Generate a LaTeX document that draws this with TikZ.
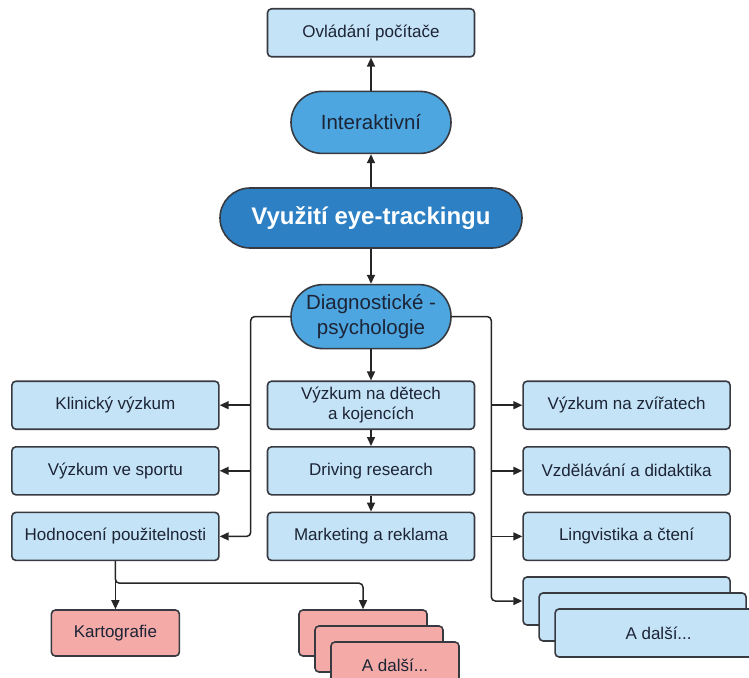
\documentclass[tikz,border=0pt]{standalone}
\usepackage{fontspec}
\setmainfont{Liberation Sans}
\usetikzlibrary{arrows.meta,positioning,calc}
\definecolor{boxBlue}{RGB}{197,227,246}
\definecolor{pillBlue}{RGB}{77,166,224}
\definecolor{mainBlue}{RGB}{44,128,195}
\definecolor{boxRed}{RGB}{244,170,166}
\definecolor{edgeGray}{RGB}{55,58,64}
\definecolor{textNavy}{RGB}{28,36,54}

\begin{document}
\begin{tikzpicture}[
  x=1pt, y=-1pt,
  node distance=16pt and 47pt,
  box/.style={rectangle, rounded corners=4pt, draw=edgeGray, line width=1.6pt, fill=boxBlue,
              minimum width=207pt, minimum height=48pt, inner sep=2pt, align=center,
              text=textNavy, font=\fontsize{17}{20.5}\selectfont},
  redbox/.style={box, fill=boxRed, minimum width=128pt, minimum height=46pt},
  pill/.style={rectangle, rounded corners=31pt, draw=edgeGray, line width=1.6pt, fill=pillBlue,
               minimum width=160pt, minimum height=62pt, inner sep=1pt, align=center,
               text=textNavy, font=\fontsize{20.5}{24.5}\selectfont},
  mainpill/.style={pill, fill=mainBlue, text=white, minimum width=302pt, minimum height=60pt,
                   rounded corners=30pt, font=\fontsize{24}{28}\selectfont\bfseries},
  arr/.style={-{Triangle[length=9pt,width=8pt]}, line width=1.5pt, draw=black!85, rounded corners=4pt}
]
\useasboundingbox (0,0) rectangle (749,677);
\clip (0,0) rectangle (749,677);

%% ---- Centre spine ----
\node[mainpill] (main) at (371,218) {Využití eye-trackingu};
\node[pill, above=33pt of main]  (inter) {Interaktivní};
\node[box,  above=33pt of inter] (ctrl)  {Ovládání počítače};
\node[pill, minimum height=64pt, rounded corners=32pt, below=35pt of main] (diag)
  {Diagnostické -\\psychologie};

%% ---- Middle column ----
\node[box, below=31pt of diag] (kids)      {Výzkum na dětech\\a kojencích};
\node[box, below=of kids]      (driving)   {Driving research};
\node[box, below=of driving]   (marketing) {Marketing a reklama};

%% ---- Left column ----
\node[box, left=of kids]      (klin)  {Klinický výzkum};
\node[box, left=of driving]   (sport) {Výzkum ve sportu};
\node[box, left=of marketing] (hodn)  {Hodnocení použitelnosti};

%% ---- Right column ----
\node[box, right=of kids]      (zvirata) {Výzkum na zvířatech};
\node[box, right=of driving]   (vzdel)   {Vzdělávání a didaktika};
\node[box, right=of marketing] (lingv)   {Lingvistika a čtení};
\node[box, below=15pt of lingv]  (etcA) {};
\node[box] (etcB) at ($(etcA)+(16,16)$) {};
\node[box] (etcC) at ($(etcA)+(32,32)$) {A další...};

%% ---- Usability children ----
\node[redbox, below=48pt of hodn]  (kart)  {Kartografie};
\node[redbox, right=118pt of kart] (moreA) {};
\node[redbox] (moreB) at ($(moreA)+(16,16)$) {};
\node[redbox] (moreC) at ($(moreA)+(32,32)$) {A další...};

%% ---- Arrows ----
\draw[arr] (main) -- (inter);
\draw[arr] (inter) -- (ctrl);
\draw[arr] (main) -- (diag);
\draw[arr] (diag) -- (kids);
\draw[arr] (kids) -- (driving);
\draw[arr] (driving) -- (marketing);
% left bus
\path (klin.east) ++(31pt,0) coordinate (lx);
\draw[arr] (diag.west) -| (lx |- hodn.east) -- (hodn.east);
\draw[arr] (lx |- klin.east)  -- (klin.east);
\draw[arr] (lx |- sport.east) -- (sport.east);
% right bus
\path (zvirata.west) ++(-31pt,0) coordinate (rx);
\draw[arr] (diag.east) -| (rx |- etcA.west) -- (etcA.west);
\draw[arr] (rx |- zvirata.west) -- (zvirata.west);
\draw[arr] (rx |- vzdel.west)   -- (vzdel.west);
\draw[arr] (rx |- lingv.west)   -- (lingv.west);
% usability split
\draw[arr] (hodn.south) -- (kart.north);
\draw[arr] (hodn.south) -- ++(0,-22pt) -| (moreA.north);
\end{tikzpicture}
\end{document}
